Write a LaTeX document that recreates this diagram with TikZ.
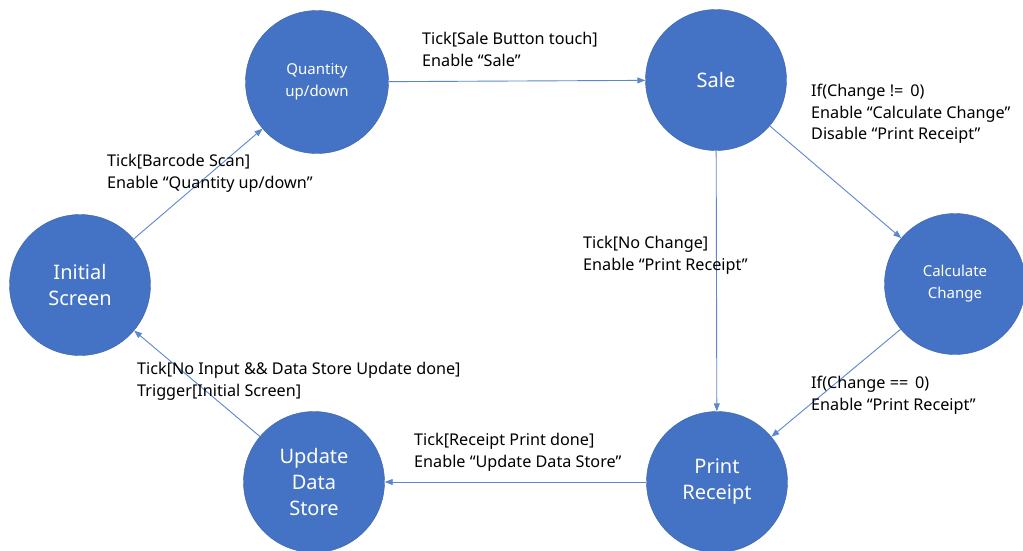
\documentclass[tikz,border=0pt]{standalone}
\usepackage{fontspec}
\setmainfont{Noto Sans}
\usetikzlibrary{arrows.meta}
\definecolor{stateblue}{HTML}{4472C4}
\definecolor{edgeblue}{HTML}{5B87D0}
\begin{document}
\begin{tikzpicture}[x=1pt,y=-1pt,
  state/.style={circle,fill=stateblue,draw=stateblue!85!black,line width=0.4pt,
    minimum size=141pt,inner sep=0pt,text=white,align=center,
    font=\fontsize{20}{26}\selectfont},
  smallstate/.style={state,font=\fontsize{15}{22}\selectfont},
  trans/.style={draw=edgeblue,line width=0.9pt,-{Triangle[length=8pt,width=6pt]}},
  lbl/.style={anchor=north west,align=left,inner sep=0pt,text=black,
    font=\fontsize{16.2}{21.5}\selectfont}]
\useasboundingbox (0,0) rectangle (1023,550);

% states
\node[state] (init) at (80,285) {Initial\\Screen};
\node[smallstate,minimum size=143pt] (qty) at (317,82) {Quantity\\up/down};
\node[state] (sale) at (716,80) {Sale};
\node[smallstate] (calc) at (955,284) {Calculate\\Change};
\node[state] (print) at (717,482) {Print\\Receipt};
\node[state] (upd) at (314,482) {Update\\Data\\Store};

% transitions
\draw[trans] (init) -- (qty);
\draw[trans] (qty) -- (sale);
\draw[trans] (sale) -- (calc);
\draw[trans] (sale) -- (print);
\draw[trans] (calc) -- (print);
\draw[trans] (print) -- (upd);
\draw[trans] (upd) -- (init);

% guard and action labels
\node[lbl] (l1) at (422,32) {Tick[Sale Button touch]\\Enable “Sale”};
\node[lbl] (l2) at (107,154) {Tick[Barcode Scan]\\Enable “Quantity up/down”};
\node[lbl] (l3) at (811,84) {If(Change != \,0)\\Enable “Calculate Change”\\Disable “Print Receipt”};
\node[lbl] (l4) at (583,236) {Tick[No Change]\\Enable “Print Receipt”};
\node[lbl] (l5) at (137,362) {Tick[No Input \&\& Data Store Update done]\\Trigger[Initial Screen]};
\node[lbl] (l6) at (414,433) {Tick[Receipt Print done]\\Enable “Update Data Store”};
\node[lbl] (l7) at (811,376) {If(Change == \,0)\\Enable “Print Receipt”};
\end{tikzpicture}
\end{document}
